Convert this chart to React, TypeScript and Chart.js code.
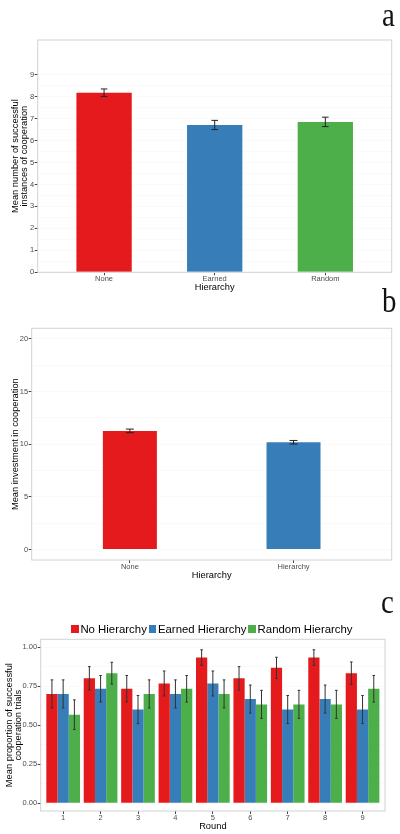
import React, { useEffect, useRef } from "react";
import { Chart, registerables } from "chart.js";

Chart.register(...registerables);

const FONT = "'Liberation Sans', Arial, Helvetica, sans-serif";
const RED = "#E41A1C";
const BLUE = "#377EB8";
const GREEN = "#4DAF4A";
const TICK_TEXT = "#4d4d4d";
const TICK_MARK = "#444444";
const GRID = "#fafafa";

// panel a: successful cooperation by hierarchy
const hierarchyA = ["None", "Earned", "Random"];
const successMean = [8.18, 6.71, 6.85];
const successErr = [0.17, 0.21, 0.215];
const successTicks = [0, 1, 2, 3, 4, 5, 6, 7, 8, 9];
const successMinor = [0.5, 1.5, 2.5, 3.5, 4.5, 5.5, 6.5, 7.5, 8.5];

// panel b: investment
const hierarchyB = ["None", "Hierarchy"];
const investMean = [11.26, 10.18];
const investErr = [0.17, 0.17];
const investTicks = [0, 5, 10, 15, 20];
const investMinor = [2.5, 7.5, 12.5, 17.5];

// panel c: proportion per round
const rounds = ["1", "2", "3", "4", "5", "6", "7", "8", "9"];
const seriesLabels = ["No Hierarchy", "Earned Hierarchy", "Random Hierarchy"];
const noHierarchy = [0.7, 0.8, 0.733, 0.767, 0.933, 0.8, 0.867, 0.933, 0.833];
const noHierarchyErr = [0.09, 0.075, 0.085, 0.08, 0.05, 0.075, 0.068, 0.05, 0.072];
const earnedHierarchy = [0.7, 0.733, 0.6, 0.7, 0.767, 0.667, 0.6, 0.667, 0.6];
const earnedHierarchyErr = [0.09, 0.085, 0.09, 0.09, 0.08, 0.09, 0.09, 0.09, 0.09];
const randomHierarchy = [0.567, 0.833, 0.7, 0.733, 0.7, 0.633, 0.633, 0.633, 0.733];
const randomHierarchyErr = [0.095, 0.07, 0.09, 0.085, 0.09, 0.09, 0.09, 0.09, 0.085];
const proportionTicks = [0, 0.25, 0.5, 0.75, 1];
const proportionMinor = [0.125, 0.375, 0.625, 0.875];

Chart.defaults.font.family = FONT;

// grey frame round the plotting area, like ggplot's panel border
const panelBorder = {
  id: "panelBorder",
  afterDatasetsDraw(chart: any) {
    const { ctx, chartArea: a } = chart;
    ctx.save();
    ctx.strokeStyle = "#d2d2d2";
    ctx.lineWidth = 1;
    ctx.strokeRect(a.left, a.top, a.right - a.left, a.bottom - a.top);
    ctx.restore();
  },
};

// error bars read from dataset.errors
const errorBars = {
  id: "errorBars",
  afterDatasetsDraw(chart: any, _args: any, opts: any) {
    const { ctx } = chart;
    const y = chart.scales.y;
    chart.data.datasets.forEach((ds: any, d: number) => {
      const meta = chart.getDatasetMeta(d);
      meta.data.forEach((bar: any, i: number) => {
        const v = ds.data[i].y;
        const e = ds.errors[i];
        const top = y.getPixelForValue(v + e);
        const bot = y.getPixelForValue(v - e);
        const cap = opts.cap ?? 3;
        ctx.save();
        ctx.strokeStyle = opts.color ?? "#222";
        ctx.lineWidth = 1;
        ctx.beginPath();
        ctx.moveTo(bar.x, top);
        ctx.lineTo(bar.x, bot);
        ctx.moveTo(bar.x - cap, top);
        ctx.lineTo(bar.x + cap, top);
        ctx.moveTo(bar.x - cap, bot);
        ctx.lineTo(bar.x + cap, bot);
        ctx.stroke();
        ctx.restore();
      });
    });
  },
};

function xAxis(labels: string[], height: number, title: string, titlePad: number) {
  return {
    type: "linear",
    min: 0.4,
    max: labels.length + 0.6,
    offset: false,
    afterBuildTicks: (s: any) => {
      s.ticks = labels.map((_, i) => ({ value: i + 1 }));
    },
    afterFit: (s: any) => {
      s.height = height;
    },
    ticks: {
      autoSkip: false,
      maxRotation: 0,
      padding: 0,
      color: TICK_TEXT,
      font: { size: 7.5, lineHeight: 1 },
      callback: (v: number) => labels[Math.round(v) - 1] ?? "",
    },
    grid: { offset: false, drawOnChartArea: false, tickLength: 3, tickColor: TICK_MARK },
    border: { display: false },
    title: {
      display: true,
      text: title,
      color: "#000",
      font: { size: 9.3, lineHeight: 1.2 },
      padding: { top: 0, bottom: titlePad },
    },
  };
}

function yAxis(
  min: number,
  max: number,
  major: number[],
  minor: number[],
  width: number,
  title: string | string[],
  titlePad: number,
  fmt: (v: number) => string
) {
  return {
    min,
    max,
    afterBuildTicks: (s: any) => {
      s.ticks = [...major, ...minor].sort((p, q) => p - q).map((value) => ({ value }));
    },
    afterFit: (s: any) => {
      s.width = width;
    },
    ticks: {
      autoSkip: false,
      padding: 0.5,
      color: TICK_TEXT,
      font: { size: 7.5 },
      callback: (v: number) => (major.includes(v) ? fmt(v) : ""),
    },
    grid: {
      color: GRID,
      tickLength: 3,
      tickColor: (c: any) => (major.includes(c.tick?.value) ? TICK_MARK : "rgba(0,0,0,0)"),
    },
    border: { display: false },
    title: {
      display: true,
      text: title,
      color: "#000",
      font: { size: 9.3, lineHeight: 1 },
      padding: { top: titlePad, bottom: 0 },
    },
  };
}

function configA() {
  return {
    type: "bar",
    data: {
      datasets: [
        {
          data: hierarchyA.map((_, i) => ({ x: i + 1, y: successMean[i] })),
          errors: successErr,
          backgroundColor: [RED, BLUE, GREEN],
          barPercentage: 0.5,
          categoryPercentage: 1,
        },
      ],
    },
    options: {
      responsive: false,
      animation: false,
      events: [],
      layout: { padding: { top: 40, right: 8.3, left: 0, bottom: 0 } },
      plugins: { legend: { display: false }, tooltip: { enabled: false }, errorBars: { cap: 3.3, color: "#222" } },
      scales: {
        x: xAxis(hierarchyA, 23.7, "Hierarchy", 3.4),
        y: yAxis(0, 10.58, successTicks, successMinor, 37.7, ["Mean number of successful", "instances of cooperation"], 10.8, (v) => String(v)),
      },
    },
    plugins: [panelBorder, errorBars],
  };
}

function configB() {
  return {
    type: "bar",
    data: {
      datasets: [
        {
          data: hierarchyB.map((_, i) => ({ x: i + 1, y: investMean[i] })),
          errors: investErr,
          backgroundColor: [RED, BLUE],
          barPercentage: 0.33,
          categoryPercentage: 1,
        },
      ],
    },
    options: {
      responsive: false,
      animation: false,
      events: [],
      layout: { padding: { top: 32.3, right: 8.3, left: 0, bottom: 0 } },
      plugins: { legend: { display: false }, tooltip: { enabled: false }, errorBars: { cap: 4, color: "#222" } },
      scales: {
        x: xAxis(hierarchyB, 26, "Hierarchy", 5.4),
        y: yAxis(-1, 21, investTicks, investMinor, 31.7, "Mean investment in cooperation", 10.4, (v) => String(v)),
      },
    },
    plugins: [panelBorder, errorBars],
  };
}

function configC() {
  const series = [
    { label: seriesLabels[0], values: noHierarchy, errors: noHierarchyErr, color: RED },
    { label: seriesLabels[1], values: earnedHierarchy, errors: earnedHierarchyErr, color: BLUE },
    { label: seriesLabels[2], values: randomHierarchy, errors: randomHierarchyErr, color: GREEN },
  ];
  return {
    type: "bar",
    data: {
      datasets: series.map((s) => ({
        label: s.label,
        data: rounds.map((_, i) => ({ x: i + 1, y: s.values[i] })),
        errors: s.errors,
        backgroundColor: s.color,
        barPercentage: 1,
        categoryPercentage: 0.9,
      })),
    },
    options: {
      responsive: false,
      animation: false,
      events: [],
      layout: { padding: { top: 53.3, right: 15, left: 0, bottom: 0 } },
      plugins: { legend: { display: false }, tooltip: { enabled: false }, errorBars: { cap: 1.3, color: "#333" } },
      scales: {
        x: xAxis(rounds, 23, "Round", 2.4),
        y: yAxis(-0.05, 1.05, proportionTicks, proportionMinor, 40.7, ["Mean proportion of successful", "cooperation trials"], 4.8, (v) => v.toFixed(2)),
      },
    },
    plugins: [panelBorder, errorBars],
  };
}

function ChartBox({ top, height, config }: { top: number; height: number; config: () => any }) {
  const ref = useRef<HTMLCanvasElement>(null);
  useEffect(() => {
    if (!ref.current) return;
    const chart = new Chart(ref.current, config());
    return () => chart.destroy();
  }, []);
  return (
    <canvas
      ref={ref}
      width={400}
      height={height}
      style={{ position: "absolute", left: 0, top, width: 400, height }}
    />
  );
}

const letterStyle: React.CSSProperties = {
  position: "absolute",
  fontFamily: "'Liberation Serif', 'Times New Roman', serif",
  fontSize: 34,
  lineHeight: 1,
  color: "#111",
  transform: "scaleX(0.85)",
  transformOrigin: "left top",
};

export default function App() {
  const legendColors = [RED, BLUE, GREEN];
  return (
    <div
      style={{
        position: "absolute",
        left: 0,
        top: 0,
        width: 400,
        height: 834,
        background: "#fff",
        overflow: "hidden",
      }}
    >
      <ChartBox top={0} height={296} config={configA} />
      <ChartBox top={296} height={290} config={configB} />
      <ChartBox top={586} height={248} config={configC} />

      <div style={{ ...letterStyle, left: 382, top: -2.2 }}>a</div>
      <div style={{ ...letterStyle, left: 381.5, top: 283.5 }}>b</div>
      <div style={{ ...letterStyle, left: 381, top: 585.2 }}>c</div>

      {/* legend of panel c */}
      <div
        style={{
          position: "absolute",
          left: 71,
          top: 622,
          display: "flex",
          alignItems: "center",
          fontFamily: FONT,
          fontSize: 11.4,
          lineHeight: "14px",
          whiteSpace: "nowrap",
          color: "#000",
        }}
      >
        {seriesLabels.map((label, i) => (
          <span key={label} style={{ display: "flex", alignItems: "center", marginRight: 1.7 }}>
            <span
              style={{
                display: "inline-block",
                width: 7.7,
                height: 7.7,
                background: legendColors[i],
                marginRight: 1.7,
              }}
            />
            {label}
          </span>
        ))}
      </div>
    </div>
  );
}
